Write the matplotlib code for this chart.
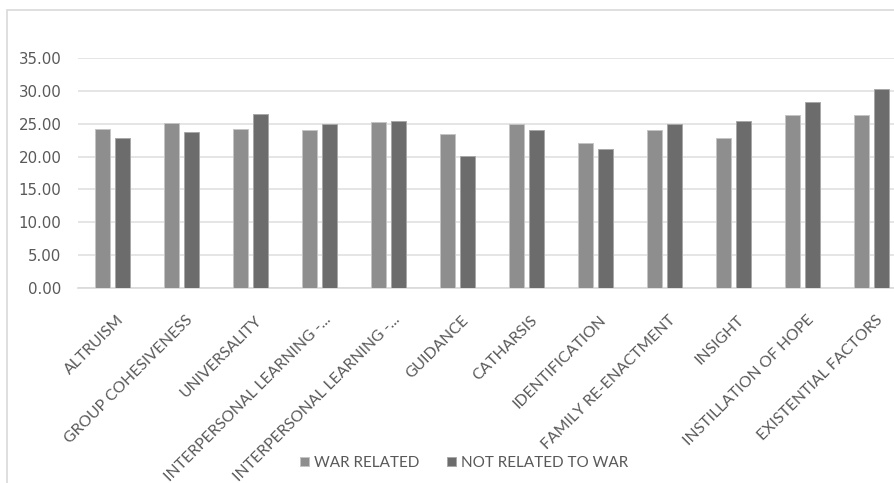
import matplotlib
matplotlib.use("Agg")
import matplotlib.pyplot as plt
import matplotlib.transforms as mtransforms
import numpy as np
from matplotlib.patches import Rectangle

categories = ["ALTRUISM", "GROUP COHESIVENESS", "UNIVERSALITY",
              "INTERPERSONAL LEARNING -...", "INTERPERSONAL LEARNING -...",
              "GUIDANCE", "CATHARSIS", "IDENTIFICATION", "FAMILY RE-ENACTMENT",
              "INSIGHT", "INSTILLATION OF HOPE", "EXISTENTIAL FACTORS"]
war_related = [24.2, 25.05, 24.2, 24.0, 25.2, 23.4, 25.0, 22.05, 24.0, 22.8, 26.3, 26.3]
not_related = [22.8, 23.7, 26.5, 24.9, 25.35, 20.1, 24.0, 21.1, 24.9, 25.35, 28.3, 30.3]
yticks = [0, 5, 10, 15, 20, 25, 30, 35]

plt.rcParams["font.family"] = ["Lato", "DejaVu Sans"]

W, H = 894, 483
fig = plt.figure(figsize=(W / 100, H / 100), dpi=100)
fig.patch.set_facecolor("white")

# chart-area border (right side is cut off in the original)
fig.patches.append(Rectangle((7 / W, -0.01), 2, 1 - 10 / H + 0.01,
                             transform=fig.transFigure, fill=False,
                             edgecolor="#d9d9d9", linewidth=1.2))

# axes slightly wider than the figure, like the cropped original
left, right = 78 / W, 906 / W
bottom, top = 1 - 288 / H, 1 - 58 / H
ax = fig.add_axes([left, bottom, right - left, top - bottom])

x = np.arange(len(categories))
w = 0.22
ax.bar(x - 0.142, war_related, w, color="#8e8e8e", edgecolor="#c4c4c4",
       linewidth=0.7, label="WAR RELATED", zorder=3)
ax.bar(x + 0.142, not_related, w, color="#6c6c6c", edgecolor="#a8a8a8",
       linewidth=0.7, label="NOT RELATED TO WAR", zorder=3)

ax.set_xlim(-0.5, len(categories) - 0.5)
ax.set_ylim(0, 35)
ax.set_yticks(yticks)
ax.set_yticklabels([f"{v:.2f}" for v in yticks], fontsize=10.8,
                   color="#595959", family="DejaVu Sans")
ax.yaxis.grid(True, color="#e0e0e0", linewidth=1.2, zorder=0)
ax.tick_params(axis="y", length=0, pad=12)
ax.tick_params(axis="x", length=0, pad=18)
ax.set_xticks(x)
ax.set_xticklabels(categories, rotation=45, ha="right", va="top",
                   rotation_mode="anchor", fontsize=11.3, color="#595959")
shift = mtransforms.ScaledTranslation(4 / 100, 0, fig.dpi_scale_trans)
for lbl in ax.get_xticklabels():
    lbl.set_transform(lbl.get_transform() + shift)
for s in ["top", "right", "left"]:
    ax.spines[s].set_visible(False)
ax.spines["bottom"].set_color("#d9d9d9")
ax.spines["bottom"].set_linewidth(1.2)

fig.legend(loc="center", bbox_to_anchor=(464 / W, 1 - 463 / H), ncol=2,
           frameon=False, fontsize=11, handlelength=0.6, handleheight=0.6,
           handletextpad=0.3, columnspacing=1.8, labelcolor="#595959")

fig.savefig("out.png", dpi=100)
